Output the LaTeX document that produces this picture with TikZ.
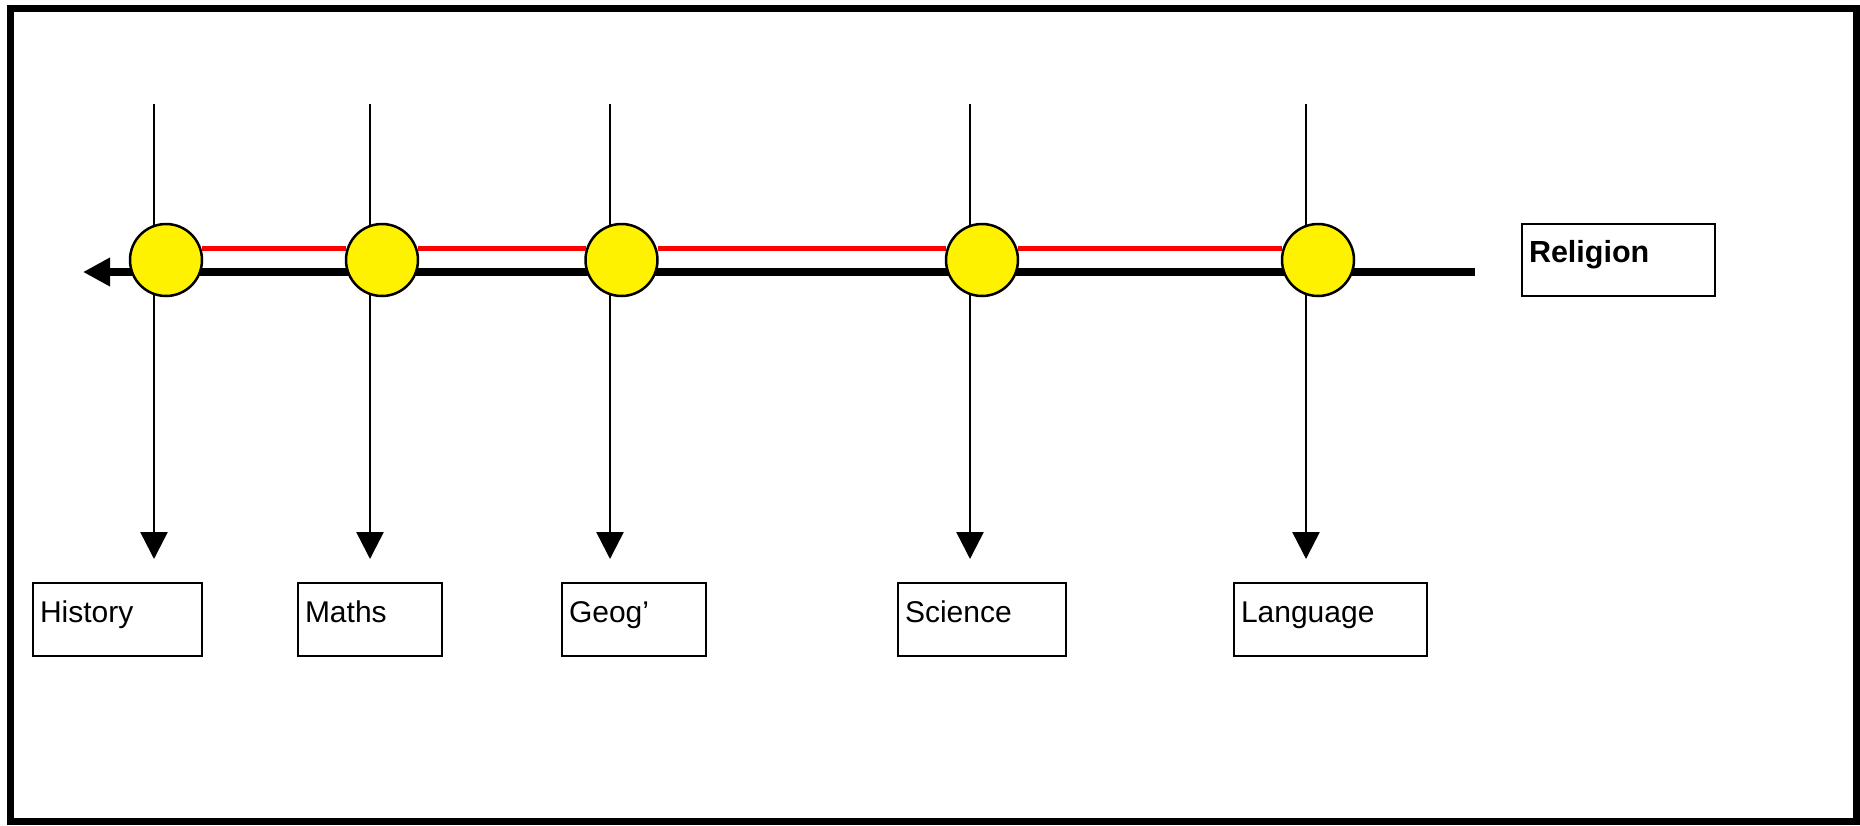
\documentclass[tikz,border=0pt]{standalone}
\usepackage{fontspec}
\setmainfont{Liberation Sans}
\usetikzlibrary{arrows.meta}
\begin{document}
\begin{tikzpicture}[x=1pt,y=-1pt,
  frame/.style={line width=7pt},
  spoke/.style={line width=2.5pt, -{Triangle[length=27pt,width=27pt]}},
  axis/.style={line width=8.5pt, -{Triangle[length=27pt,width=27pt]}},
  link/.style={red, line width=5pt},
  dot/.style={circle, fill=yellow, draw=black, line width=2.5pt, minimum size=72pt, inner sep=0pt, outer sep=0pt},
  box/.style={draw, line width=2.5pt, anchor=north west, outer sep=0pt, inner xsep=7pt, inner ysep=0pt, align=left},
  subj/.style={box, minimum height=73pt, text height=20pt, text depth=15pt, font=\fontsize{30}{36}\selectfont},
  rel/.style={box, minimum height=72pt, text height=20pt, text depth=16pt, font=\bfseries\fontsize{30.5}{36}\selectfont}
]
\useasboundingbox (0,0) rectangle (1860,825);
\draw[frame] (10.5,8) rectangle (1856.5,821.5);

% spokes
\foreach \i/\x in {1/154,2/370,3/610,4/970,5/1306}{
  \coordinate (top\i) at (\x,104);
  \coordinate (tip\i) at (\x,559);
  \draw[spoke] (top\i) -- (tip\i);
}

% main axis
\coordinate (axisR) at (1475,272);
\coordinate (axisL) at (83,272);
\draw[axis] (axisR) -- (axisL);

% circles
\node[dot] (c1) at (166,260) {};
\node[dot] (c2) at (382,260) {};
\node[dot] (c3) at (621.5,260) {};
\node[dot] (c4) at (982,260) {};
\node[dot] (c5) at (1318,260) {};

% red links
\draw[link] ([yshift=12pt]c1.east) -- ([yshift=12pt]c2.west);
\draw[link] ([yshift=12pt]c2.east) -- ([yshift=12pt]c3.west);
\draw[link] ([yshift=12pt]c3.east) -- ([yshift=12pt]c4.west);
\draw[link] ([yshift=12pt]c4.east) -- ([yshift=12pt]c5.west);

% boxes
\node[subj, minimum width=169pt, text width=155pt] (hist) at (33,583) {History};
\node[subj, minimum width=144pt, text width=130pt] (math) at (298,583) {Maths};
\node[subj, minimum width=144pt, text width=130pt] (geog) at (562,583) {Geog’};
\node[subj, minimum width=168pt, text width=154pt] (sci) at (898,583) {Science};
\node[subj, minimum width=193pt, text width=179pt] (lang) at (1234,583) {Language};
\node[rel, minimum width=193pt, text width=179pt] (relig) at (1522,224) {Religion};
\end{tikzpicture}
\end{document}
